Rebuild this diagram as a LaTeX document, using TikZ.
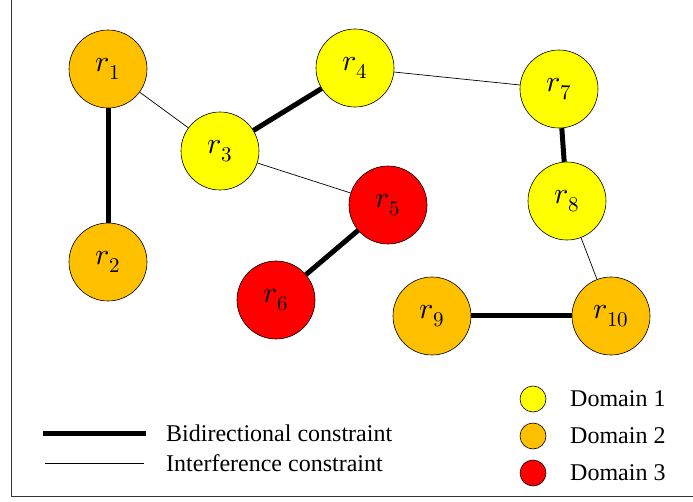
\documentclass[tikz,border=0pt]{standalone}
\usepackage{fontspec}
\usepackage{unicode-math}
\setmainfont{Liberation Serif}
\setmathfont{Latin Modern Math}
\usepackage{tikz}
\usetikzlibrary{calc,backgrounds}
\newcommand{\thick}{5pt}
\newcommand{\thin}{0.7pt}
\newcommand{\rad}{78pt}
\definecolor{domainone}{RGB}{255,255,0}
\definecolor{domaintwo}{RGB}{255,192,0}
\definecolor{domainthree}{RGB}{255,0,0}
\tikzset{
  robot/.style={circle, draw=black, line width=0.6pt, minimum size=\rad, inner sep=0pt,
    font=\fontsize{30}{34}\selectfont},
  legdot/.style={circle, draw=black, line width=0.6pt, minimum size=26pt, inner sep=0pt},
  legtext/.style={anchor=west, inner sep=0pt, font=\fontsize{24}{28}\selectfont},
  bidir/.style={line width=\thick},
  interf/.style={line width=\thin}
}

\begin{document}
\begin{tikzpicture}[x=1pt, y=-1pt]
\useasboundingbox (0,0) rectangle (693,502);
\draw[line width=1pt, black!80] (11,0) |- (693,496);
\node[robot, fill=domaintwo] (1) at (108, 69) {$r_{1}$};
\node[robot, fill=domaintwo] (2) at (108, 262) {$r_{2}$};
\node[robot, fill=domainone] (3) at (220, 151) {$r_{3}$};
\node[robot, fill=domainone] (4) at (355, 68) {$r_{4}$};
\node[robot, fill=domainthree] (5) at (388, 205) {$r_{5}$};
\node[robot, fill=domainthree] (6) at (276, 300) {$r_{6}$};
\node[robot, fill=domainone] (7) at (559, 89) {$r_{7}$};
\node[robot, fill=domainone] (8) at (567, 201) {$r_{8}$};
\node[robot, fill=domaintwo] (9) at (432, 316) {$r_{9}$};
\node[robot, fill=domaintwo] (10) at (611, 316) {$r_{10}$};
%bidirectional
\draw[bidir] (1) -- (2);
\draw[bidir] (3) -- (4);
\draw[bidir] (5) -- (6);
\draw[bidir] (7) -- (8);
\draw[bidir] (9) -- (10);
%interference
\draw[interf] (1) -- (3);
\draw[interf] (3) -- (5);
\draw[interf] (4) -- (7);
\draw[interf] (8) -- (10);
%legend
\coordinate (b1) at (43, 433);
\coordinate (b2) at (146, 433);
\coordinate (i1) at (45, 463);
\coordinate (i2) at (144, 463);
\draw[bidir] (b1) -- (b2);
\draw[interf] (i1) -- (i2);
\node[legtext] (tb) at (166, 433) {Bidirectional constraint};
\node[legtext] (ti) at (166, 463) {Interference constraint};
\node[legdot, fill=domainone] (d1) at (533, 399) {};
\node[legdot, fill=domaintwo] (d2) at (533, 436) {};
\node[legdot, fill=domainthree] (d3) at (533, 473) {};
\node[legtext] (t1) at (570, 399) {Domain 1};
\node[legtext] (t2) at (570, 436) {Domain 2};
\node[legtext] (t3) at (570, 473) {Domain 3};
\end{tikzpicture}
\end{document}
